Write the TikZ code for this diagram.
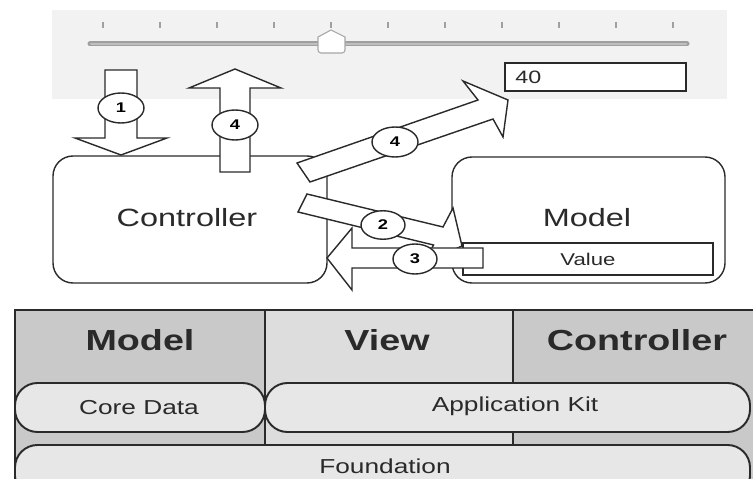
\documentclass[tikz,border=0pt]{standalone}
\usepackage{fontspec}
\newfontfamily\uifont[FakeStretch=1.3]{Liberation Sans}
\usetikzlibrary{shapes.geometric}

\definecolor{panelgray}{HTML}{F2F2F2}
\definecolor{colgray}{HTML}{C9C9C9}
\definecolor{viewgray}{HTML}{DDDDDD}
\definecolor{pillgray}{HTML}{E7E7E7}
\definecolor{inkgray}{HTML}{2A2A2A}
\definecolor{tickgray}{HTML}{A0A0A0}

\tikzset{
  blockarrow/.style={draw=inkgray, fill=white, line width=0.8pt, line join=miter},
  badge/.style={ellipse, draw=inkgray, fill=white, line width=0.8pt,
    minimum width=0.92cm, minimum height=0.6cm, inner sep=0pt,
    font=\uifont\fontsize{8}{8}\selectfont\bfseries},
  roundbox/.style={draw=inkgray, fill=white, line width=0.8pt, rounded corners=0.4cm},
  pill/.style={draw=inkgray, fill=pillgray, line width=1.1pt, rounded corners=0.45cm},
  tableline/.style={draw=inkgray, line width=1.1pt},
  boxtext/.style={font=\uifont\fontsize{14.2}{16}\selectfont, text=inkgray},
  headtext/.style={font=\uifont\fontsize{16.5}{18}\selectfont\bfseries, text=inkgray},
  pilltext/.style={font=\uifont\fontsize{11.5}{13}\selectfont, text=inkgray}
}

\begin{document}
\begin{tikzpicture}[x=0.02cm,y=-0.02cm]
    \useasboundingbox (0,0) rectangle (753,479);
    \clip (0,0) rectangle (753,479);

    % slider panel
    \fill[panelgray] (52,10) rectangle (727,99);
    \foreach \i in {0,...,10}
    \draw[tickgray, line width=0.6pt] (103+57*\i,22)--(103+57*\i,28);
    \draw[gray!75, line width=0.1cm, line cap=round] (90,44)--(687,44);
    \draw[gray!50, line width=0.04cm, line cap=round] (91,44)--(686,44);
    \draw[gray!70, fill=white, line width=0.6pt] (318,37)--(331,30)--(345,37)--(345,50)
      to[out=-90,in=0] (342,53)--(321,53) to[out=180,in=-90] (318,50)--cycle;
    \node[draw=inkgray, fill=white, line width=0.9pt, minimum width=3.62cm, minimum height=0.56cm,
      inner sep=0pt] (field) at (595.5,77) {};
    \node[anchor=west, inner sep=0pt, font=\uifont\fontsize{10.2}{12}\selectfont, text=inkgray]
      (fieldval) at (515,77) {40};

    % boxes
    \draw[roundbox] (53,156) rectangle (327,283);
    \node[boxtext] (ctrl) at (187,218) {Controller};
    \draw[roundbox] (452,157) rectangle (725,283);
    \node[boxtext] (model) at (587,218) {Model};
    \draw[draw=inkgray, fill=white, line width=0.8pt] (463,243) rectangle (713,275);
    \node[font=\uifont\fontsize{9.7}{11}\selectfont, text=inkgray] (value) at (588,259) {Value};

    % block arrows
    \draw[blockarrow] (105,70)--(137,70)--(137,138)--(167,138)--(121,155)--(75,138)--(105,138)--cycle;
    \draw[blockarrow] (220,172)--(220,88)--(189,88)--(235,69)--(281,88)--(250,88)--(250,172)--cycle;
    \draw[blockarrow] (297,163)--(478,100)--(463,81)--(508,100)--(503,137)--(493,119)--(310,182)--cycle;
    \draw[blockarrow] (307,194)--(443,227)--(453,208)--(462,246)--(425,262)--(433.5,245)--(298,212)--cycle;
    \draw[blockarrow] (483,248)--(352,248)--(352,228)--(327,258)--(352,290)--(352,268)--(483,268)--cycle;

    % step badges
    \node[badge] (s1) at (121,108) {1};
    \node[badge] (s4a) at (235,125) {4};
    \node[badge] (s4b) at (395,142) {4};
    \node[badge, minimum width=0.88cm, minimum height=0.57cm] (s2) at (383,225) {2};
    \node[badge, minimum width=0.88cm] (s3) at (415,259) {3};

    % layer table
    \fill[colgray] (15,310) rectangle (265,500);
    \fill[viewgray] (265,310) rectangle (513,500);
    \fill[colgray] (513,310) rectangle (760,500);
    \draw[tableline] (760,310)--(15,310)--(15,500);
    \draw[tableline] (265,310)--(265,445);
    \draw[tableline] (513,310)--(513,445);
    \node[headtext] (hmodel) at (140,340) {Model};
    \node[headtext] (hview) at (387,340) {View};
    \node[headtext] (hctrl) at (637,340) {Controller};
    \draw[pill] (15,383) rectangle (265,432);
    \node[pilltext] (coredata) at (139,408) {Core Data};
    \draw[pill] (265,383) rectangle (750,432);
    \node[pilltext] (appkit) at (515,406) {Application Kit};
    \draw[pill] (15,445) rectangle (750,498);
    \node[pilltext] (found) at (385,466) {Foundation};
  \end{tikzpicture}
\end{document}
